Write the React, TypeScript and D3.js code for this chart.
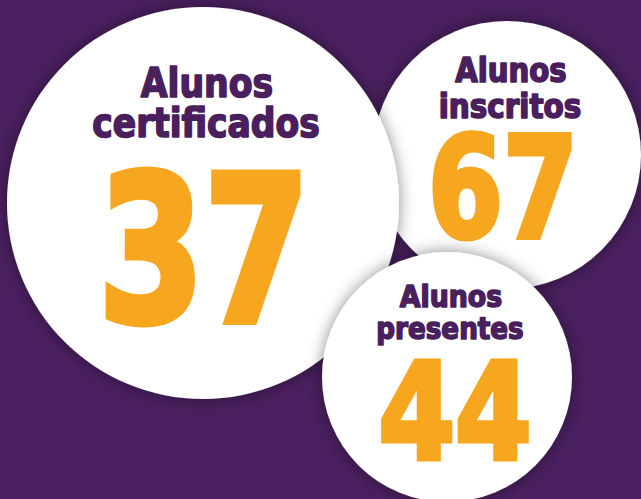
import React from "react";
import * as d3 from "d3";

const labelsTop = ["Alunos", "Alunos", "Alunos"];
const labelsBottom = ["inscritos", "certificados", "presentes"];
const values = [67, 37, 44];

// layout (draw order: top-right, big, bottom)
const layout = [
  { cx: 507, cy: 155, r: 134, l1: { y: 82, w: 113, fs: 33 }, l2: { y: 118, w: 144, fs: 33 }, num: { y: 237, w: 155, fs: 140, dx: -4, sw: 5 } },
  { cx: 203, cy: 203, r: 196, l1: { y: 97, w: 134, fs: 40 }, l2: { y: 137, w: 229, fs: 40 }, num: { y: 321, w: 218, fs: 203, dx: 1, sw: 7 } },
  { cx: 447, cy: 377, r: 125, l1: { y: 307, w: 104, fs: 31 }, l2: { y: 339, w: 149, fs: 31 }, num: { y: 459, w: 158, fs: 134, dx: 8, sw: 5 } },
];

const W = 641;
const H = 499;
const BG = "#4a2060";
const TEXT = "#4a1f5e";
const ORANGE = "#f7a71f";

export default function App() {
  const fmt = d3.format("d");
  const font = "'DejaVu Sans', sans-serif";
  return (
    <svg width={W} height={H} style={{ position: "absolute", left: 0, top: 0, display: "block" }}>
      <defs>
        <filter id="sh" x="-20%" y="-20%" width="140%" height="140%">
          <feDropShadow dx="0" dy="0" stdDeviation="8" floodColor="#000" floodOpacity="0.45" />
        </filter>
      </defs>
      <rect x={0} y={0} width={W} height={H} fill={BG} />
      {layout.map((c, i) => (
        <g key={i}>
          <circle cx={c.cx} cy={c.cy} r={c.r} fill="#fff" filter="url(#sh)" />
          <text x={c.cx + 4} y={c.l1.y} textAnchor="middle" fill={TEXT} stroke={TEXT} strokeWidth={1.6} strokeLinejoin="round"
            fontFamily={font} fontWeight={700} fontStretch="condensed" fontSize={c.l1.fs}
            textLength={c.l1.w - 1.6} lengthAdjust="spacingAndGlyphs">{labelsTop[i]}</text>
          <text x={c.cx + 3} y={c.l2.y} textAnchor="middle" fill={TEXT} stroke={TEXT} strokeWidth={1.6} strokeLinejoin="round"
            fontFamily={font} fontWeight={700} fontStretch="condensed" fontSize={c.l2.fs}
            textLength={c.l2.w - 1.6} lengthAdjust="spacingAndGlyphs">{labelsBottom[i]}</text>
          <text x={c.cx + c.num.dx} y={c.num.y} textAnchor="middle" fill={ORANGE} stroke={ORANGE} strokeWidth={c.num.sw}
            strokeLinejoin="miter" fontFamily={font} fontWeight={700} fontStretch="condensed" fontSize={c.num.fs}
            textLength={c.num.w - c.num.sw} lengthAdjust="spacingAndGlyphs">{fmt(values[i])}</text>
        </g>
      ))}
    </svg>
  );
}
